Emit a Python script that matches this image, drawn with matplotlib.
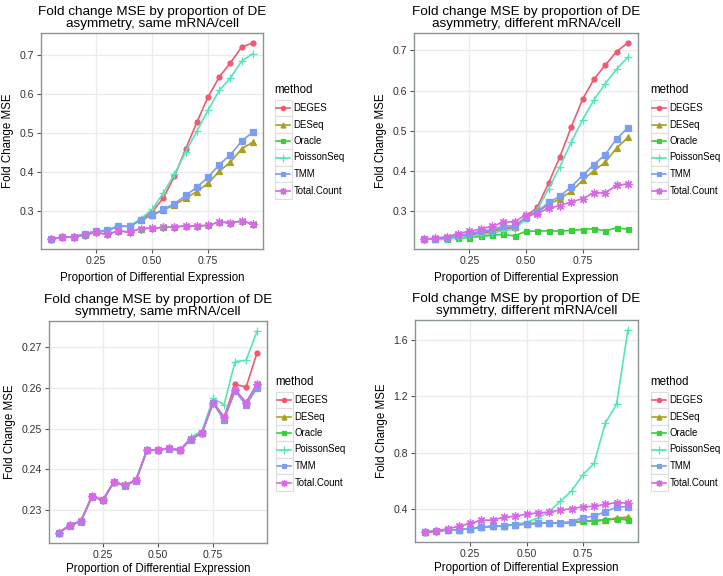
import matplotlib
matplotlib.use("Agg")
import matplotlib.pyplot as plt
from matplotlib.lines import Line2D
from matplotlib.patches import Rectangle

plt.rcParams['font.family'] = ['Liberation Sans', 'DejaVu Sans']

# ---- data ----
prop_de = [0.05, 0.10, 0.15, 0.20, 0.25, 0.30, 0.35, 0.40, 0.45, 0.50,
           0.55, 0.60, 0.65, 0.70, 0.75, 0.80, 0.85, 0.90, 0.95]
methods = ['DEGES', 'DESeq', 'Oracle', 'PoissonSeq', 'TMM', 'Total.Count']

# asymmetry, same mRNA/cell
asym_same = {
    'DEGES':      [0.2267, 0.232, 0.232, 0.240, 0.247, 0.249, 0.260, 0.260, 0.276, 0.297,
                   0.332, 0.388, 0.458, 0.527, 0.592, 0.643, 0.680, 0.720, 0.731],
    'DESeq':      [0.2267, 0.232, 0.232, 0.240, 0.247, 0.249, 0.260, 0.260, 0.276, 0.288,
                   0.301, 0.315, 0.332, 0.349, 0.370, 0.401, 0.425, 0.459, 0.476],
    'Oracle':     [0.2267, 0.232, 0.232, 0.238, 0.244, 0.239, 0.248, 0.245, 0.254, 0.255,
                   0.257, 0.258, 0.261, 0.261, 0.262, 0.271, 0.269, 0.273, 0.266],
    'PoissonSeq': [0.2267, 0.232, 0.232, 0.240, 0.247, 0.249, 0.260, 0.260, 0.279, 0.303,
                   0.345, 0.393, 0.451, 0.504, 0.558, 0.609, 0.641, 0.684, 0.703],
    'TMM':        [0.2267, 0.232, 0.232, 0.240, 0.247, 0.249, 0.260, 0.260, 0.276, 0.289,
                   0.303, 0.318, 0.339, 0.360, 0.386, 0.418, 0.444, 0.478, 0.502],
    'Total.Count':[0.2267, 0.232, 0.232, 0.238, 0.244, 0.239, 0.248, 0.245, 0.254, 0.255,
                   0.257, 0.258, 0.261, 0.261, 0.262, 0.271, 0.269, 0.273, 0.266],
}

# asymmetry, different mRNA/cell
asym_diff = {
    'DEGES':      [0.229, 0.230, 0.232, 0.236, 0.240, 0.244, 0.248, 0.255, 0.258, 0.285,
                   0.309, 0.369, 0.435, 0.509, 0.578, 0.628, 0.663, 0.697, 0.719],
    'DESeq':      [0.229, 0.230, 0.232, 0.237, 0.241, 0.246, 0.250, 0.257, 0.259, 0.283,
                   0.296, 0.316, 0.330, 0.348, 0.376, 0.400, 0.421, 0.456, 0.483],
    'Oracle':     [0.229, 0.230, 0.230, 0.232, 0.233, 0.236, 0.239, 0.241, 0.237, 0.249,
                   0.249, 0.250, 0.249, 0.251, 0.253, 0.255, 0.250, 0.257, 0.254],
    'PoissonSeq': [0.229, 0.229, 0.230, 0.233, 0.236, 0.240, 0.244, 0.250, 0.254, 0.280,
                   0.303, 0.355, 0.410, 0.471, 0.527, 0.576, 0.617, 0.653, 0.683],
    'TMM':        [0.229, 0.230, 0.232, 0.239, 0.243, 0.249, 0.253, 0.261, 0.263, 0.284,
                   0.297, 0.321, 0.336, 0.360, 0.388, 0.415, 0.440, 0.479, 0.507],
    'Total.Count':[0.229, 0.232, 0.235, 0.243, 0.249, 0.254, 0.262, 0.271, 0.273, 0.290,
                   0.293, 0.306, 0.313, 0.322, 0.330, 0.345, 0.345, 0.363, 0.367],
}

# symmetry, same mRNA/cell
sym_same = {
    'DEGES':      [0.2244, 0.2262, 0.2272, 0.2333, 0.2324, 0.2369, 0.2360, 0.2373, 0.2447, 0.2448,
                   0.2451, 0.2447, 0.2475, 0.2490, 0.2565, 0.2527, 0.2609, 0.2602, 0.2687],
    'DESeq':      [0.2244, 0.2262, 0.2272, 0.2333, 0.2324, 0.2369, 0.2360, 0.2373, 0.2447, 0.2448,
                   0.2451, 0.2447, 0.2475, 0.2490, 0.2564, 0.2528, 0.2595, 0.2564, 0.2609],
    'Oracle':     [0.2244, 0.2262, 0.2272, 0.2333, 0.2324, 0.2369, 0.2360, 0.2373, 0.2447, 0.2448,
                   0.2451, 0.2447, 0.2475, 0.2490, 0.2564, 0.2528, 0.2595, 0.2564, 0.2609],
    'PoissonSeq': [0.2244, 0.2262, 0.2272, 0.2333, 0.2324, 0.2369, 0.2360, 0.2373, 0.2447, 0.2448,
                   0.2451, 0.2447, 0.2479, 0.2494, 0.2574, 0.2559, 0.2665, 0.2668, 0.2740],
    'TMM':        [0.2243, 0.2261, 0.2271, 0.2332, 0.2323, 0.2368, 0.2359, 0.2372, 0.2446, 0.2447,
                   0.2450, 0.2446, 0.2473, 0.2489, 0.2563, 0.2520, 0.2593, 0.2557, 0.2601],
    'Total.Count':[0.2244, 0.2262, 0.2272, 0.2333, 0.2324, 0.2369, 0.2360, 0.2373, 0.2447, 0.2448,
                   0.2451, 0.2447, 0.2475, 0.2490, 0.2564, 0.2528, 0.2595, 0.2564, 0.2609],
}

# symmetry, different mRNA/cell
sym_diff = {
    'DEGES':      [0.238, 0.243, 0.253, 0.253, 0.262, 0.272, 0.277, 0.282, 0.289, 0.294,
                   0.299, 0.301, 0.301, 0.306, 0.313, 0.315, 0.323, 0.330, 0.326],
    'DESeq':      [0.238, 0.243, 0.253, 0.253, 0.262, 0.272, 0.277, 0.282, 0.289, 0.294,
                   0.299, 0.301, 0.301, 0.306, 0.314, 0.316, 0.325, 0.335, 0.344],
    'Oracle':     [0.238, 0.243, 0.253, 0.253, 0.262, 0.272, 0.277, 0.282, 0.289, 0.294,
                   0.299, 0.301, 0.301, 0.306, 0.313, 0.315, 0.323, 0.330, 0.325],
    'PoissonSeq': [0.238, 0.243, 0.253, 0.253, 0.262, 0.272, 0.277, 0.282, 0.291, 0.306,
                   0.335, 0.380, 0.455, 0.528, 0.642, 0.724, 1.009, 1.144, 1.668],
    'TMM':        [0.238, 0.243, 0.253, 0.253, 0.262, 0.272, 0.277, 0.282, 0.289, 0.294,
                   0.299, 0.301, 0.301, 0.308, 0.340, 0.349, 0.381, 0.414, 0.417],
    'Total.Count':[0.238, 0.243, 0.262, 0.277, 0.299, 0.320, 0.323, 0.342, 0.349, 0.364,
                   0.373, 0.378, 0.393, 0.402, 0.417, 0.419, 0.434, 0.446, 0.443],
}

titles = ["Fold change MSE by proportion of DE\nasymmetry, same mRNA/cell",
          "Fold change MSE by proportion of DE\nasymmetry, different mRNA/cell",
          "Fold change MSE by proportion of DE\nsymmetry, same mRNA/cell",
          "Fold change MSE by proportion of DE\nsymmetry, different mRNA/cell"]
x_ticks = [0.25, 0.50, 0.75]
x_ticklabels = ['0.25', '0.50', '0.75']
y_ticks_list = [[0.3, 0.4, 0.5, 0.6, 0.7],
                [0.3, 0.4, 0.5, 0.6, 0.7],
                [0.23, 0.24, 0.25, 0.26, 0.27],
                [0.4, 0.8, 1.2, 1.6]]
y_fmt = ['{:.1f}', '{:.1f}', '{:.2f}', '{:.1f}']

# ---- styles ----
colors = {'DEGES': '#EE5A70', 'DESeq': '#AAA020', 'Oracle': '#38D038',
          'PoissonSeq': '#55E6B8', 'TMM': '#7C9EF2', 'Total.Count': '#D868E6'}
markers = {'DEGES': 'o', 'DESeq': '^', 'Oracle': 's', 'PoissonSeq': '+',
           'TMM': 's', 'Total.Count': (8, 2, 0)}
msizes = {'DEGES': 3.6, 'DESeq': 4.2, 'Oracle': 3.6, 'PoissonSeq': 6,
          'TMM': 4.0, 'Total.Count': 6}

W, H = 723, 576
fig = plt.figure(figsize=(W / 100, H / 100), dpi=100)

# panel boxes in pixels: left, right, top, bottom
boxes = [(41, 263, 33, 249), (414, 638, 33, 249),
         (49, 267, 321, 543), (415, 638, 320, 542)]
# legend anchor in pixels (left, y of title)
legend_pos = [(274, 90), (650, 90), (275, 382), (650, 382)]
xlabel_pad = [4, 4, 2, 2]

datasets = [asym_same, asym_diff, sym_same, sym_diff]


def draw_legend(x0, ytitle):
    fig.text(x0 / W, 1 - ytitle / H, 'method', fontsize=8.3, va='center', ha='left')
    row_h = 16.5
    for i, m in enumerate(methods):
        yc = ytitle + 18 + i * row_h
        fig.add_artist(Rectangle(((x0 + 0.5) / W, 1 - (yc + row_h / 2) / H),
                                 17 / W, row_h / H, transform=fig.transFigure,
                                 facecolor='white', edgecolor='#DDDDDD', lw=0.8))
        fig.add_artist(Line2D([(x0 + 2) / W, (x0 + 16) / W], [1 - yc / H, 1 - yc / H],
                              transform=fig.transFigure, color=colors[m], lw=1.2))
        fig.add_artist(Line2D([(x0 + 9) / W], [1 - yc / H], transform=fig.transFigure,
                              color=colors[m], marker=markers[m], lw=0,
                              markersize=msizes[m] * 0.85, markeredgewidth=0.9))
        fig.text((x0 + 19.5) / W, 1 - yc / H, m, fontsize=6.9, va='center', ha='left')


for k, data in enumerate(datasets):
    l, r, t, b = boxes[k]
    ax = fig.add_axes([l / W, 1 - b / H, (r - l) / W, (b - t) / H])
    for m in methods:
        ax.plot(prop_de, data[m], color=colors[m], lw=1.2, marker=markers[m],
                markersize=msizes[m], markeredgewidth=0.9, zorder=3)
    ax.margins(x=0.05, y=0.05)
    ax.set_xticks(x_ticks)
    ax.set_xticklabels(x_ticklabels)
    ax.set_yticks(y_ticks_list[k])
    ax.set_yticklabels([y_fmt[k].format(v) for v in y_ticks_list[k]])
    ax.grid(True, color='#EBEBEB', lw=0.9, zorder=0)
    ax.set_axisbelow(True)
    for s in ax.spines.values():
        s.set_color('#8A9494')
        s.set_linewidth(1.0)
    ax.tick_params(axis='both', length=3, width=0.8, color='#555555',
                   labelsize=7.6, labelcolor='#333333', pad=2)
    ax.set_title(titles[k], fontsize=9.7, pad=4, linespacing=1.05)
    ax.set_xlabel('Proportion of Differential Expression', fontsize=8.3,
                  labelpad=xlabel_pad[k])
    ax.set_ylabel('Fold Change MSE', fontsize=8.3, labelpad=4)
    draw_legend(*legend_pos[k])

fig.savefig('out.png', dpi=100, facecolor='white')
